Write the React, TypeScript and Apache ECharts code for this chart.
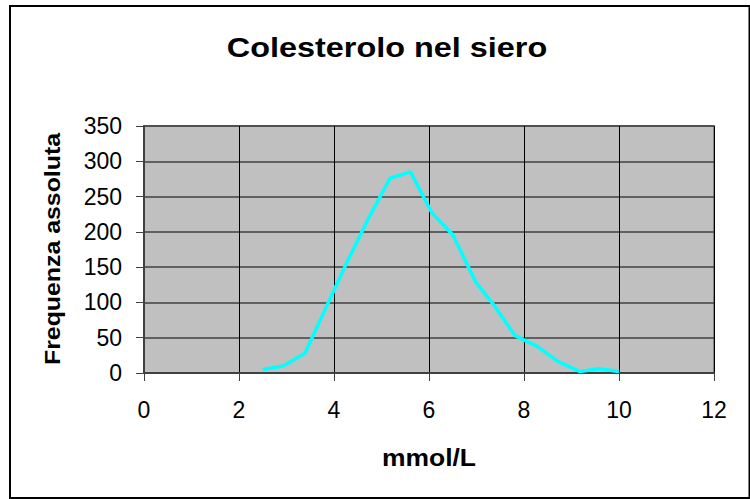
import React, { useEffect, useRef } from "react";
import * as echarts from "echarts";

const titleText = "Colesterolo nel siero";
const xName = "mmol/L";
const yName = "Frequenza assoluta";
const mmol = [2.5, 2.93, 3.39, 3.82, 4.26, 4.71, 5.18, 5.61, 6.06, 6.5, 6.99, 7.38, 7.81, 8.27, 8.72, 9.18, 9.57, 10.0];
const freq = [5, 10, 28, 91, 155, 217, 276, 285, 227, 196, 128, 95, 53, 38, 16, 2, 6, 2];
const xTicks = { min: 0, max: 12, interval: 2 };
const yTicks = { min: 0, max: 350, interval: 50 };

const FONT = "'Liberation Sans', Arial, sans-serif";

export default function App() {
  const ref = useRef<HTMLDivElement>(null);
  useEffect(() => {
    if (!ref.current) return;
    const chart = echarts.init(ref.current, null, { renderer: "svg" });
    chart.setOption({
      animation: false,
      backgroundColor: "#ffffff",
      textStyle: { fontFamily: FONT },
      graphic: [
        {
          type: "rect",
          shape: { x: 10, y: 6, width: 739.5, height: 492 },
          style: { fill: "none", stroke: "#000", lineWidth: 2 },
          silent: true,
        },
        {
          type: "text",
          x: 387,
          y: 47,
          scaleX: 1.2,
          style: {
            text: titleText,
            fontFamily: FONT,
            fontSize: 27,
            fontWeight: "bold",
            fill: "#000",
            textAlign: "center",
            textVerticalAlign: "middle",
          },
        },
        {
          type: "text",
          x: 429,
          y: 458,
          scaleX: 1.15,
          style: {
            text: xName,
            fontFamily: FONT,
            fontSize: 23,
            fontWeight: "bold",
            fill: "#000",
            textAlign: "center",
            textVerticalAlign: "middle",
          },
        },
        {
          type: "text",
          x: 53,
          y: 249,
          rotation: Math.PI / 2,
          scaleX: 1.13,
          style: {
            text: yName,
            fontFamily: FONT,
            fontSize: 22,
            fontWeight: "bold",
            fill: "#000",
            textAlign: "center",
            textVerticalAlign: "middle",
          },
        },
      ],
      grid: {
        left: 144,
        right: 36,
        top: 126,
        bottom: 126,
        show: true,
        backgroundColor: "#C0C0C0",
        borderColor: "#808080",
        borderWidth: 2,
      },
      xAxis: {
        type: "value",
        min: xTicks.min,
        max: xTicks.max,
        interval: xTicks.interval,
        axisLine: { show: true, lineStyle: { color: "#404040", width: 2 } },
        axisTick: { show: true, length: 8, lineStyle: { color: "#404040", width: 1 } },
        axisLabel: { fontFamily: FONT, fontSize: 23, color: "#000", margin: 25 },
        splitLine: { show: true, lineStyle: { color: "#000", width: 1 } },
      },
      yAxis: {
        type: "value",
        min: yTicks.min,
        max: yTicks.max,
        interval: yTicks.interval,
        axisLine: { show: true, lineStyle: { color: "#404040", width: 2 } },
        axisTick: { show: true, length: 8, lineStyle: { color: "#404040", width: 1 } },
        axisLabel: { fontFamily: FONT, fontSize: 23, color: "#000", margin: 22 },
        splitLine: { show: true, lineStyle: { color: "#404040", width: 1.5 } },
      },
      series: [
        {
          type: "line",
          data: mmol.map((x, i) => [x, freq[i]]),
          showSymbol: false,
          symbol: "none",
          lineStyle: { color: "#00FFFF", width: 3.5 },
          z: 5,
        },
      ],
    });
    return () => chart.dispose();
  }, []);
  return (
    <div
      ref={ref}
      style={{ position: "fixed", left: 0, top: 0, width: 750, height: 499 }}
    />
  );
}
